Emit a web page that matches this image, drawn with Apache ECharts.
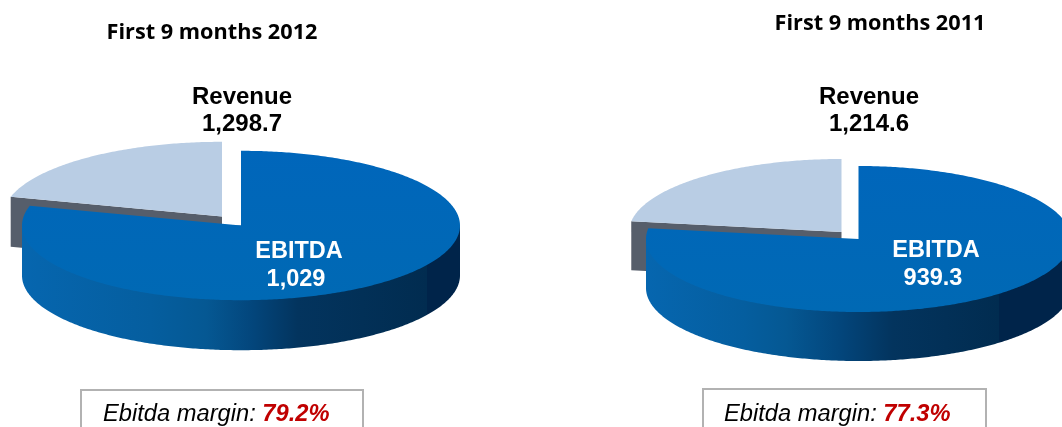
<!DOCTYPE html>
<html><head><meta charset="utf-8">
<style>html,body{margin:0;padding:0;background:#fff}#c{width:1062px;height:427px}</style>
<script src="https://cdn.jsdelivr.net/npm/echarts@6/dist/echarts.min.js"></script>
</head><body><div id="c"></div>
<script>
const periods = ['First 9 months 2012', 'First 9 months 2011'];
const revenue = [1298.7, 1214.6];
const ebitda = [1029, 939.3];
const revenueLabels = ['1,298.7', '1,214.6'];
const ebitdaLabels = ['1,029', '939.3'];
const margins = ['79.2%', '77.3%'];

const SANS = '"Liberation Sans", Arial, sans-serif';
const layouts = [
  { cx: 241, cy: 225.5, rx: 219, ry: 74.7, depth: 50, dx: -19, dy: -9,
    title: [212, 33], rev: [242, 97.5, 124.5], eb: [299, 252], ebv: [296, 280],
    box: [81, 390, 282], margin: [103, 414.5], hard: .925, mid: [.42, .63] },
  { cx: 858.5, cy: 239, rx: 212.5, ry: 73, depth: 49, dx: -17, dy: -7,
    title: [880, 24], rev: [869, 97, 124], eb: [936, 250.5], ebv: [933, 278.5],
    box: [703, 389, 283], margin: [724, 414.5], hard: .83, mid: [.33, .58] }
];

function rim(L, deg, ox, oy) {
  const a = deg * Math.PI / 180;
  return [L.cx + (ox || 0) + L.rx * Math.sin(a), L.cy + (oy || 0) - L.ry * Math.cos(a)];
}
function arc(L, from, to, ox, oy) {
  const pts = [], n = Math.max(8, Math.round(Math.abs(to - from) * 1.5));
  for (let i = 0; i <= n; i++) pts.push(rim(L, from + (to - from) * i / n, ox, oy));
  return pts;
}
function txt(x, y, text, font, fill, extra) {
  return { type: 'text', silent: true, x, y,
    style: Object.assign({ text, font, fill, align: 'center', verticalAlign: 'middle' }, extra || {}) };
}
function renderPie(params, api) {
  const i = api.value(0), rev = api.value(1), eb = api.value(2);
  const L = layouts[i];
  const end = 360 * eb / rev;
  const G = echarts.graphic;
  const side = new G.LinearGradient(0, 0, 1, 0, [
    { offset: 0, color: '#0666AF' }, { offset: L.mid[0] * .7, color: '#055E9F' },
    { offset: L.mid[0], color: '#055893' },
    { offset: (L.mid[0] + L.mid[1]) / 2, color: '#03467C' }, { offset: L.mid[1], color: '#03345E' },
    { offset: L.hard, color: '#012C50' }, { offset: L.hard, color: '#00244A' }, { offset: 1, color: '#00244A' }
  ]);
  const top = new G.LinearGradient(0, 0, 0, 1, [
    { offset: 0, color: '#0066BB' }, { offset: 1, color: '#0069B4' }
  ]);
  const v = [L.cx + L.dx, L.cy + L.dy];
  const r0 = rim(L, end, L.dx, L.dy);
  const kids = [
    { type: 'polygon', silent: true, shape: { points: [r0, v, [v[0], v[1] + L.depth], [r0[0], r0[1] + L.depth]] }, style: { fill: '#565E6B' } },
    { type: 'polygon', silent: true, shape: { points: [v].concat(arc(L, end, 360, L.dx, L.dy)) }, style: { fill: '#B9CDE4' } },
    { type: 'polygon', silent: true, shape: { points: [rim(L, 90), rim(L, 270)].concat(arc(L, 270, 90, 0, L.depth)) }, style: { fill: side } },
    { type: 'polygon', silent: true, shape: { points: [[L.cx, L.cy]].concat(arc(L, 0, end, 0, 0)) }, style: { fill: top } },
    txt(L.title[0], L.title[1], periods[i], 'bold 21.7px "Open Sans", sans-serif', '#000'),
    txt(L.rev[0], L.rev[1], 'Revenue', 'bold 24px ' + SANS, '#000'),
    txt(L.rev[0], L.rev[2], revenueLabels[i], 'bold 24px ' + SANS, '#000'),
    txt(L.eb[0], L.eb[1], 'EBITDA', 'bold 23.5px ' + SANS, '#fff'),
    txt(L.ebv[0], L.ebv[1], ebitdaLabels[i], 'bold 23.5px ' + SANS, '#fff'),
    { type: 'rect', silent: true, shape: { x: L.box[0], y: L.box[1], width: L.box[2], height: 80 },
      style: { fill: '#fff', stroke: '#B2B2B2', lineWidth: 2 } },
    { type: 'text', silent: true, x: L.margin[0], y: L.margin[1], style: {
        text: '{a|Ebitda margin: }{b|' + margins[i] + '}', align: 'left', verticalAlign: 'middle',
        rich: {
          a: { font: 'italic 23.7px ' + SANS, fill: '#000', color: '#000' },
          b: { font: 'italic bold 23.7px ' + SANS, fill: '#C00000', color: '#C00000' }
        } } }
  ];
  return { type: 'group', children: kids };
}
const chart = echarts.init(document.getElementById('c'), null, { renderer: 'canvas' });
chart.setOption({
  animation: false,
  backgroundColor: '#fff',
  series: [{
    type: 'custom', coordinateSystem: 'none', silent: true,
    renderItem: renderPie,
    data: periods.map((p, i) => [i, revenue[i], ebitda[i]])
  }]
});
</script></body></html>
